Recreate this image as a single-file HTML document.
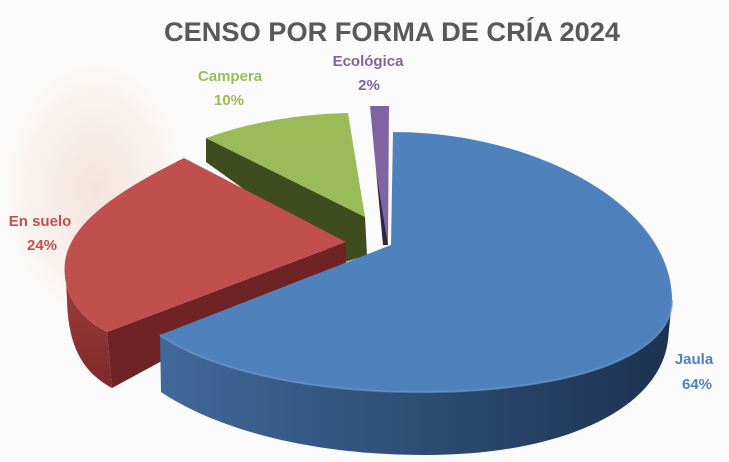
<!DOCTYPE html>
<html><head><meta charset="utf-8"><style>
html,body{margin:0;padding:0;background:#fff;overflow:hidden;width:729px;height:462px}
svg{display:block}
text{font-family:"Liberation Sans",sans-serif;font-weight:bold}
</style></head><body>
<svg width="729" height="462" viewBox="0 0 729 462" xmlns="http://www.w3.org/2000/svg">
<defs>
<radialGradient id="egg" cx="0.5" cy="0.5" r="0.5">
<stop offset="0" stop-color="#efd8cb" stop-opacity="0.7"/>
<stop offset="0.7" stop-color="#f4e6de" stop-opacity="0.4"/>
<stop offset="1" stop-color="#fbf6f3" stop-opacity="0"/>
</radialGradient>
<linearGradient id="blueSide" x1="0" x2="1" y1="0" y2="0">
<stop offset="0" stop-color="#41699b"/>
<stop offset="0.45" stop-color="#2f5079"/>
<stop offset="1" stop-color="#1d3250"/>
</linearGradient>
<linearGradient id="redSide" x1="0" x2="0" y1="0" y2="1">
<stop offset="0" stop-color="#a5403e"/>
<stop offset="1" stop-color="#7c2a2a"/>
</linearGradient>
</defs>
<rect width="729" height="462" fill="#fbfbfb"/>
<ellipse cx="95" cy="190" rx="100" ry="140" fill="url(#egg)"/>
<ellipse cx="430" cy="430" rx="130" ry="30" fill="url(#egg)" opacity="0.6"/>
<text x="392" y="41" text-anchor="middle" font-size="27" fill="#595959" textLength="456" lengthAdjust="spacingAndGlyphs">CENSO POR FORMA DE CRÍA 2024</text>

<path d="M206,138 L365,217 L367,255 L345,262 L206,162 Z" fill="#3f4c20"/>
<path d="M365,217 L206,138 C250,122 300,114 348,113 Z" fill="#9bbb59"/>
<path d="M370,106 L389,106 L388,245 L376,170 Z" fill="#8064a2"/>
<path d="M370,106 L376,170 L388,245 L383,245 Z" fill="#2f2445"/>
<path d="M107,332 L346,242 L346,268 L160,362 L112,388 Z" fill="#6e2424"/>
<path d="M65,262 C62,295 80,318 107,332 L112,388 C82,372 68,345 67,300 Z" fill="url(#redSide)"/>
<path d="M346,242 L184,158 C120,190 70,222 65,262 C62,295 80,318 107,332 Z" fill="#c0504d"/>
<path d="M160,335 C210,370 310,392 420,392 C560,392 672,360 672,300 L668,340 C660,410 560,455 426,455 C300,455 210,425 161,392 Z" fill="url(#blueSide)"/>
<path d="M391,245 L393,132 C535,132 672,205 672,300 C672,360 560,392 420,392 C310,392 210,370 160,335 Z" fill="#4f81bd"/>
<path d="M160,335 C210,370 310,392 420,392 C560,392 672,360 672,300" fill="none" stroke="#6a96cc" stroke-width="2" opacity="0.7"/>

<text x="230" y="81" text-anchor="middle" font-size="15" fill="#9bbb59">Campera</text>
<text x="229" y="105" text-anchor="middle" font-size="15" fill="#9bbb59">10%</text>
<text x="368" y="66" text-anchor="middle" font-size="15" fill="#8064a2">Ecológica</text>
<text x="369" y="90" text-anchor="middle" font-size="15" fill="#8064a2">2%</text>
<text x="40" y="226" text-anchor="middle" font-size="15" fill="#c0504d">En suelo</text>
<text x="42" y="250" text-anchor="middle" font-size="15" fill="#c0504d">24%</text>
<text x="694" y="364" text-anchor="middle" font-size="15" fill="#4f81bd">Jaula</text>
<text x="697" y="389" text-anchor="middle" font-size="15" fill="#4f81bd">64%</text>
</svg>
</body></html>
